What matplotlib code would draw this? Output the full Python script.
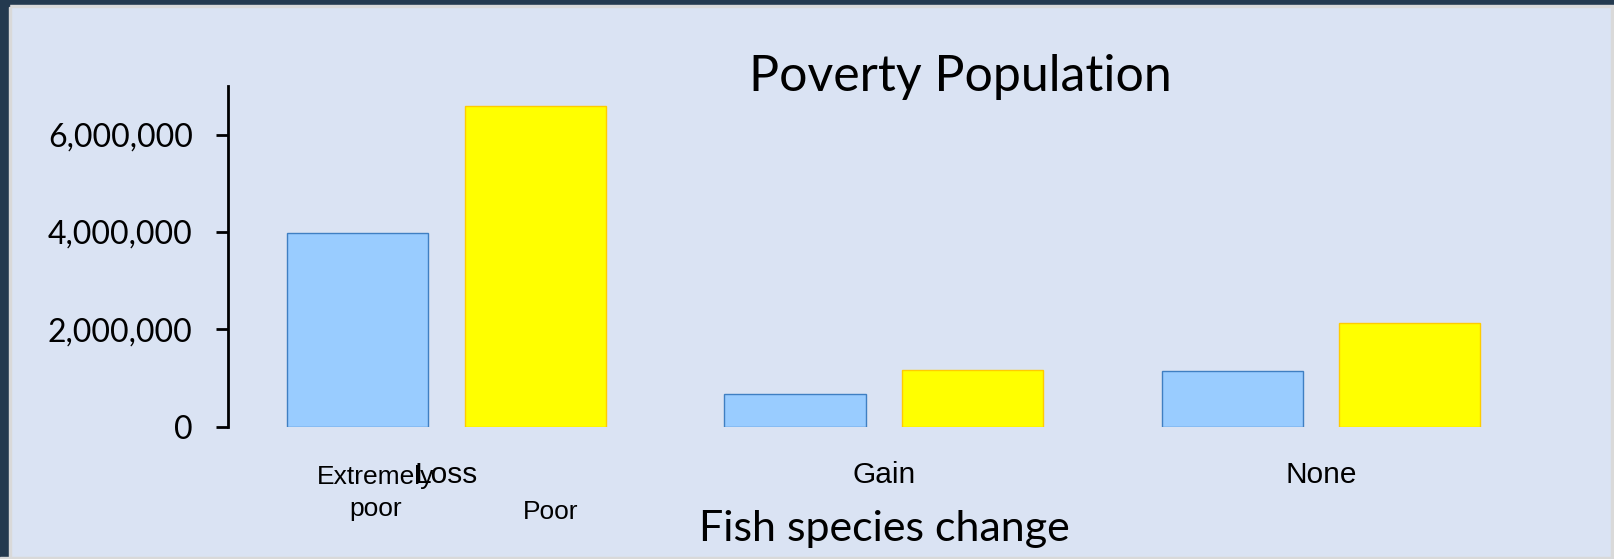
import numpy as np
import matplotlib.pyplot as plt
from matplotlib.patches import Rectangle
from matplotlib.ticker import FuncFormatter

categories = ['Loss', 'Gain', 'None']
extremely_poor = [3980000, 680000, 1150000]
poor = [6580000, 1160000, 2120000]
series_labels = ['Extremely\npoor', 'Poor']

bg = '#DAE3F3'
fig = plt.figure(figsize=[16.14, 5.59], dpi=100, facecolor=bg)

# dark frame round the slide
fig.patches.append(Rectangle((0, 0.991), 1, 0.009, transform=fig.transFigure, color='#243A4F', zorder=0))
fig.patches.append(Rectangle((0, 0.987), 1, 0.004, transform=fig.transFigure, color='#D9D9D9', zorder=0))
fig.patches.append(Rectangle((0, 0), 0.0056, 1, transform=fig.transFigure, color='#243A4F', zorder=0))
fig.patches.append(Rectangle((0.0056, 0), 0.0012, 0.987, transform=fig.transFigure, color='#D9D9D9', zorder=0))
fig.patches.append(Rectangle((0.998, 0), 0.002, 0.987, transform=fig.transFigure, color='#D9D9D9', zorder=0))
fig.patches.append(Rectangle((0, 0), 1, 0.003, transform=fig.transFigure, color='#D9D9D9', zorder=0))

ax = fig.add_axes([0.1413, 0.2367, 0.8125, 0.6095])
ax.set_facecolor(bg)

x = np.arange(len(categories))
w = 0.323
off = 0.203
ax.bar(x - off, extremely_poor, w, color='#99CCFF', edgecolor='#3F7FC2', linewidth=1)
ax.bar(x + off, poor, w, color='#FFFF00', edgecolor='#FFCC00', linewidth=1)

ax.set_xlim(-0.5, 2.5)
ax.set_ylim(0, 7000000)
ax.set_yticks([0, 2000000, 4000000, 6000000])
ax.yaxis.set_major_formatter(FuncFormatter(lambda v, p: f'{int(v):,}'))
ax.tick_params(axis='y', length=8.5, width=2, pad=17, labelsize=23)
for t in ax.get_yticklabels():
    t.set_fontfamily('Lato')

ax.set_xticks(x)
ax.set_xticklabels(categories, fontsize=21.5, family='Liberation Sans')
ax.tick_params(axis='x', length=0, pad=25)

for s in ['top', 'right', 'bottom']:
    ax.spines[s].set_visible(False)
ax.spines['left'].set_linewidth(2)

# series names under the first group
trans = ax.get_xaxis_transform()
ax.text(x[0] - off + 0.04, -0.195, series_labels[0], transform=trans, ha='center', va='center',
        fontsize=19, family='Liberation Sans', linespacing=1.45)
ax.text(x[0] + off + 0.035, -0.25, series_labels[1], transform=trans, ha='center', va='center',
        fontsize=19, family='Liberation Sans')

fig.text(0.595, 0.862, 'Poverty Population', ha='center', va='center', fontsize=36, family='Lato')
fig.text(0.548, 0.054, 'Fish species change', ha='center', va='center', fontsize=31, family='Lato')

fig.savefig('out.png', dpi=100, facecolor=bg)
